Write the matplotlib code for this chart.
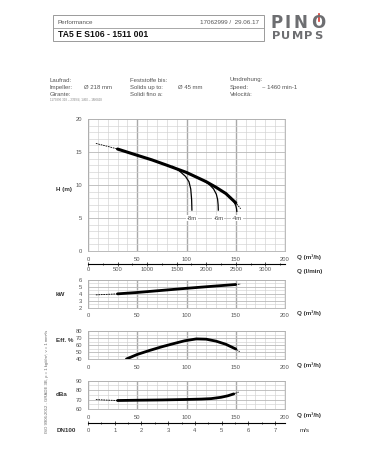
import matplotlib
matplotlib.use("Agg")
import matplotlib.pyplot as plt
from matplotlib.patches import Rectangle
from matplotlib.lines import Line2D
from matplotlib.ticker import MultipleLocator
import numpy as np

plt.rcParams['font.family'] = ['Liberation Sans', 'DejaVu Sans']

# ---- data ----
q_head = [8, 20, 30, 50, 65, 80, 90, 100, 110, 120, 130, 140, 150, 155]
head = [16.3, 15.85, 15.45, 14.5, 13.8, 13.0, 12.45, 11.9, 11.2, 10.5, 9.65, 8.7, 7.3, 6.4]

q_npsh8 = [86, 93, 99, 102.5, 104.3, 105.2, 105.5]
h_npsh8 = [12.8, 12.1, 11.3, 10.5, 9.4, 7.8, 6.2]
q_npsh6 = [117, 123, 127.5, 130.3, 131.6, 132.1, 132.3]
h_npsh6 = [10.7, 10.1, 9.4, 8.6, 7.8, 7.0, 6.2]
q_npsh4 = [145, 148, 150, 150.8, 151.1]
h_npsh4 = [8.1, 7.5, 6.9, 6.4, 6.0]
npsh_labels = ["-8m", "-6m", "-4m"]

q_kw = [8, 30, 50, 75, 100, 125, 150, 155]
power = [3.85, 4.0, 4.2, 4.5, 4.8, 5.08, 5.35, 5.42]

q_eff = [39, 50, 62, 75, 87, 98, 110, 120, 130, 140, 150, 154]
eff = [40, 46.5, 52, 57.5, 62, 66, 68.7, 68.3, 65.5, 61, 54.3, 50.5]

q_db = [8, 20, 30, 50, 75, 100, 115, 125, 135, 142, 148, 153]
dba = [70.0, 69.4, 69.0, 69.3, 69.6, 70.1, 70.5, 71.0, 72.4, 74.0, 76.0, 78.0]

op_range = (30, 150)       # thick part of the curves
eff_range = (39, 150)

q_ticks = [0, 50, 100, 150, 200]
lmin_ticks = [0, 500, 1000, 1500, 2000, 2500, 3000]
ms_ticks = [0, 1, 2, 3, 4, 5, 6, 7]
v_max = 7.37               # m/s in DN100 at 200 m3/h (as drawn)

W, H = 378, 472
fig = plt.figure(figsize=(W / 100, H / 100), dpi=100)
fig.patch.set_facecolor('white')

TXT = '#333333'
GRID_MIN = '#d2d2d2'
GRID_MAJ = '#a9a9a9'
LOGO = '#6d6e71'


def box(x0, y0, x1, y1):
    # pixel box (top-left origin) -> figure fraction rect
    return [x0 / W, 1 - y1 / H, (x1 - x0) / W, (y1 - y0) / H]


def ftext(x, y, s, **kw):
    kw.setdefault('color', TXT)
    kw.setdefault('va', 'center')
    fig.text(x / W, 1 - y / H, s, **kw)


def fline(xs, ys, **kw):
    fig.add_artist(Line2D([x / W for x in xs], [1 - y / H for y in ys],
                          transform=fig.transFigure, **kw))


def panel(rect, ylim, ymaj, ymin):
    ax = fig.add_axes(rect)
    ax.set_xlim(0, 200)
    ax.set_ylim(*ylim)
    ax.xaxis.set_major_locator(MultipleLocator(50))
    ax.xaxis.set_minor_locator(MultipleLocator(10))
    ax.yaxis.set_major_locator(MultipleLocator(ymaj))
    ax.yaxis.set_minor_locator(MultipleLocator(ymin))
    ax.grid(which='minor', color=GRID_MIN, lw=0.45)
    ax.grid(which='major', axis='x', color=GRID_MAJ, lw=1.0)
    ax.grid(which='major', axis='y', color='#b8b8b8', lw=0.6)
    ax.set_axisbelow(True)
    ax.tick_params(which='both', length=0, labelsize=4.2, colors='#555555', pad=4)
    for s in ax.spines.values():
        s.set_color('#b0b0b0')
        s.set_linewidth(0.6)
    return ax


def flow_axis(rect, xmax, ticks, minor, pad):
    ax = fig.add_axes(rect)
    ax.set_xlim(0, xmax)
    ax.set_xticks(ticks)
    ax.xaxis.set_minor_locator(MultipleLocator(minor))
    ax.set_yticks([])
    for k in ['top', 'left', 'right']:
        ax.spines[k].set_visible(False)
    ax.spines['bottom'].set_linewidth(0.8)
    ax.patch.set_alpha(0)
    ax.tick_params(which='major', direction='inout', length=3, width=0.6, labelsize=4.2,
                   colors='#333333', pad=pad)
    ax.tick_params(which='minor', direction='inout', length=2, width=0.5)
    ax.tick_params(axis='x', labelcolor='#555555')
    return ax


def curve(ax, q, v, rng, lw=2.2):
    q = np.asarray(q, float)
    v = np.asarray(v, float)
    ax.plot(q, v, color='black', lw=0.6, ls=(0, (2, 1)), zorder=3)
    m = (q >= rng[0]) & (q <= rng[1])
    ax.plot(q[m], v[m], color='black', lw=lw, solid_capstyle='round', zorder=4)


# ---- head chart ----
ax_h = panel(box(88, 119, 285, 251), (0, 20), 5, 1)
ax_h.set_xticks(q_ticks)
curve(ax_h, q_head, head, op_range)
for qs, hs, lab in zip([q_npsh8, q_npsh6, q_npsh4], [h_npsh8, h_npsh6, h_npsh4], npsh_labels):
    ax_h.plot(qs, hs, color='black', lw=0.9, zorder=3)
    ax_h.text(qs[-1], 5, lab, fontsize=4.2, color='#444444', ha='center', va='center',
              bbox=dict(boxstyle='square,pad=0.15', fc='white', ec='none'), zorder=5)

flow_axis(box(88, 262, 285, 264), 200 * 1000 / 60, lmin_ticks, 250, 1)

# ---- power ----
ax_p = panel(box(88, 280, 285, 307.7), (2, 6), 1, 0.5)
ax_p.set_xticks(q_ticks)
curve(ax_p, q_kw, power, op_range, lw=2.0)

# ---- efficiency ----
ax_e = panel(box(88, 331, 285, 359), (40, 80), 10, 5)
ax_e.set_xticks(q_ticks)
curve(ax_e, q_eff, eff, eff_range, lw=2.0)

# ---- noise ----
ax_d = panel(box(88, 380.7, 285, 409), (60, 90), 10, 5)
ax_d.set_xticks(q_ticks)
curve(ax_d, q_db, dba, op_range, lw=2.0)

flow_axis(box(88, 421, 285, 423), v_max, ms_ticks, 0.5, 2)

# ---- axis captions ----
ftext(56, 190, "H (m)", fontsize=4.5, fontweight='bold')
ftext(297, 257.5, "Q (m³/h)", fontsize=4.5, fontweight='bold')
ftext(297, 271, "Q (l/min)", fontsize=4.5, fontweight='bold')
ftext(56, 294, "kW", fontsize=4.5, fontweight='bold')
ftext(297, 313.5, "Q (m³/h)", fontsize=4.5, fontweight='bold')
ftext(56, 341, "Eff. %", fontsize=4.5, fontweight='bold')
ftext(297, 365, "Q (m³/h)", fontsize=4.5, fontweight='bold')
ftext(56, 394, "dBa", fontsize=4.5, fontweight='bold')
ftext(297, 415, "Q (m³/h)", fontsize=4.5, fontweight='bold')
ftext(57, 431, "DN100", fontsize=4.5, fontweight='bold')
ftext(300, 431, "m/s", fontsize=4.5)
ftext(47, 381, "ISO 9906:2012 - GRADE 3B, ρ = 1 kg/dm³, ν = 1 mm²/s", fontsize=3.1,
      rotation=90, ha='center', color='#666666')

# ---- header ----
fig.add_artist(Rectangle((53 / W, 1 - 40.7 / H), (264 - 53) / W, (40.7 - 15) / H,
                         transform=fig.transFigure, fill=False, ec='#9a9a9a', lw=0.7))
fline([53, 264], [28.3, 28.3], color='#9a9a9a', lw=0.6)
ftext(58, 22.5, "Performance", fontsize=4.5, color='#555555')
ftext(259, 22.5, "17062999 /  29.06.17", fontsize=4.5, color='#555555', ha='right')
ftext(58, 34.8, "TA5 E S106 - 1511 001", fontsize=6.2, fontweight='bold', color='#111111')

# logo, letters placed one by one to get the wide spacing of the logo face
logo = dict(fontweight='bold', color=LOGO, ha='center', family='DejaVu Sans')
for ch, cx in zip("PINO", [277, 288, 300, 318.3]):
    ftext(cx, 22.5, ch, fontsize=12, **logo)
for ch, cx in zip("PUMPS", [276, 286, 297.5, 308.5, 318.5]):
    ftext(cx, 36.3, ch, fontsize=8.2, **logo)
fline([318.5, 318.5], [12.5, 21.8], color='white', lw=3.2)
fline([318.5, 318.5], [14, 20.7], color='#d0362d', lw=1.2)

# info block
info = dict(fontsize=4.3, color='#555555')
ftext(50, 80, "Laufrad:", **info)
ftext(50, 87.3, "Impeller:", **info)
ftext(50, 94.3, "Girante:", **info)
ftext(50, 99.3, "1175896 318 – 2399/4, 1460 – 1M0828", fontsize=2.2, color='#888888')
ftext(84, 87.3, "Ø 218 mm", **info)
ftext(130, 80, "Feststoffe bis:", **info)
ftext(130, 87.3, "Solids up to:", **info)
ftext(130, 94.3, "Solidi fino a:", **info)
ftext(178, 87.3, "Ø 45 mm", **info)
ftext(230, 80, "Umdrehung:", **info)
ftext(230, 87.3, "Speed:", **info)
ftext(230, 94.3, "Velocità:", **info)
ftext(262, 87.3, "~ 1460 min-1", **info)

fig.savefig("out.png", dpi=100, facecolor='white')
